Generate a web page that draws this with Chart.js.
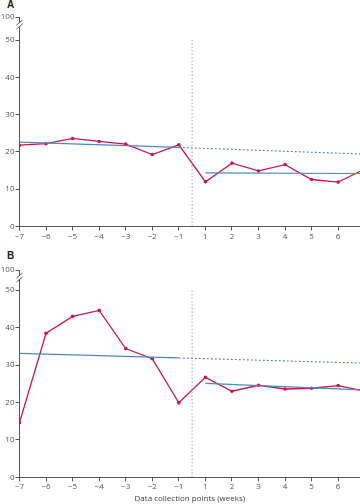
<!DOCTYPE html>
<html>
<head>
<meta charset="utf-8">
<script src="https://cdn.jsdelivr.net/npm/chart.js@4/dist/chart.umd.min.js"></script>
<style>
  html, body { margin: 0; padding: 0; background: #fff; }
  body { width: 360px; height: 504px; position: relative; overflow: hidden; font-family: "Open Sans", "Liberation Sans", sans-serif; }
  .panel { position: absolute; left: 0; width: 362px; }
  .lbl { position: absolute; left: 7px; font: bold 10px "Liberation Sans", Arial, sans-serif; color: #222; }
</style>
</head>
<body>
<div class="lbl" style="top:-1px;">A</div>
<div class="panel" style="top:0;height:250px;"><canvas id="cA"></canvas></div>
<div class="lbl" style="top:250px;">B</div>
<div class="panel" style="top:250px;height:254px;"><canvas id="cB"></canvas></div>
<script>
// ---- data ----
const weekLabels = ['\u22127','\u22126','\u22125','\u22124','\u22123','\u22122','\u22121','1','2','3','4','5','6','7'];
const yTickValues = [0, 10, 20, 30, 40, 50];
const breakLabel = '100';
const xAxisTitle = 'Data collection points (weeks)';

const aObserved      = [21.8, 22.2, 23.6, 22.8, 22.1, 19.3, 21.9, 12.0, 17.0, 14.9, 16.6, 12.6, 11.9, 15.4];
const aPreTrend      = [22.6, 21.2];   // weeks -7 .. -1
const aPreProjection = [21.2, 19.4];   // weeks -1 .. 7
const aPostTrend     = [14.4, 14.2];   // weeks 1 .. 7

const bObserved      = [14.6, 38.5, 43.0, 44.6, 34.4, 31.7, 19.9, 26.7, 23.0, 24.6, 23.6, 23.8, 24.5, 23.0];
const bPreTrend      = [33.1, 31.9];
const bPreProjection = [31.9, 30.5];
const bPostTrend     = [25.1, 23.3];

// ---- styling ----
const RED = '#c4194f';
const BLUE = '#4f86bd';
const AXIS = '#555';
const GREY = '#9a9a9a';
const FONT = { family: '"Open Sans", "Liberation Sans", sans-serif', size: 8 };

const breakPlugin = {
  id: 'axisBreak',
  afterDraw(chart) {
    const y = chart.scales.y;
    const ctx = chart.ctx;
    const x = y.right;
    const t = y.top;
    ctx.save();
    ctx.fillStyle = '#fff';
    ctx.fillRect(x - 3, t + 6, 6, 4);
    ctx.strokeStyle = AXIS;
    ctx.lineWidth = 1;
    ctx.beginPath();
    ctx.moveTo(x - 3, t + 8); ctx.lineTo(x + 3, t + 3);
    ctx.moveTo(x - 3, t + 12); ctx.lineTo(x + 3, t + 7);
    ctx.stroke();
    ctx.restore();
  }
};

function makeChart(id, observed, pre, proj, post, yMax, padTop, xAxisHeight, showTitle) {
  const firstPre = 0, lastPre = weekLabels.indexOf('\u22121'), firstPost = weekLabels.indexOf('1'), lastPost = weekLabels.length - 1;
  const interruption = (lastPre + firstPost) / 2;
  const xMax = 12.83;
  return new Chart(document.getElementById(id), {
    type: 'line',
    data: {
      datasets: [
        { data: [{x: interruption, y: 0}, {x: interruption, y: yTickValues[yTickValues.length - 1]}],
          borderColor: GREY, borderWidth: 0.9, borderDash: [1.5, 2], pointRadius: 0, pointHoverRadius: 0 },
        { data: [{x: firstPre, y: pre[0]}, {x: lastPre, y: pre[1]}],
          borderColor: BLUE, borderWidth: 1.2, pointRadius: 0, pointHoverRadius: 0 },
        { data: [{x: lastPre, y: proj[0]}, {x: lastPost, y: proj[1]}],
          borderColor: BLUE, borderWidth: 1.1, borderDash: [2, 2], pointRadius: 0, pointHoverRadius: 0 },
        { data: [{x: firstPost, y: post[0]}, {x: lastPost, y: post[1]}],
          borderColor: BLUE, borderWidth: 1.2, pointRadius: 0, pointHoverRadius: 0 },
        { data: observed.map((v, i) => ({x: i, y: v})),
          borderColor: RED, backgroundColor: RED, borderWidth: 1.3, pointRadius: 1.8, pointHoverRadius: 1.8, pointBorderWidth: 0 }
      ]
    },
    options: {
      responsive: true, maintainAspectRatio: false, animation: false,
      layout: { padding: { top: padTop, left: 0, right: 0, bottom: 0 } },
      plugins: { legend: { display: false }, tooltip: { enabled: false } },
      scales: {
        x: {
          type: 'linear', min: 0, max: xMax,
          afterBuildTicks: s => { s.ticks = weekLabels.map((_, i) => ({value: i})).filter(t => t.value <= xMax); },
          afterFit: s => { s.height = xAxisHeight; s.paddingRight = 0; s.paddingLeft = 0; },
          ticks: { callback: v => weekLabels[v], color: AXIS, font: FONT, padding: 1, maxRotation: 0, autoSkip: false },
          grid: { drawOnChartArea: false, tickLength: 4, tickColor: AXIS },
          border: { color: AXIS, width: 1 },
          title: { display: showTitle, text: xAxisTitle, color: '#444', font: FONT, padding: { top: 3, bottom: 0 } }
        },
        y: {
          type: 'linear', min: 0, max: yMax,
          afterBuildTicks: s => { s.ticks = yTickValues.concat([yMax]).map(v => ({value: v})); },
          afterFit: s => { s.width = 19.5; },
          ticks: { callback: v => (v === yMax ? breakLabel : v), color: AXIS, font: FONT, padding: 1 },
          grid: { drawOnChartArea: false, tickLength: 4, tickColor: AXIS },
          border: { color: AXIS, width: 1 }
        }
      }
    },
    plugins: [breakPlugin]
  });
}

makeChart('cA', aObserved, aPreTrend, aPreProjection, aPostTrend, 56.17, 17, 23.5, false);
makeChart('cB', bObserved, bPreTrend, bPreProjection, bPostTrend, 55.4, 20, 26.7, true);
</script>
</body>
</html>
